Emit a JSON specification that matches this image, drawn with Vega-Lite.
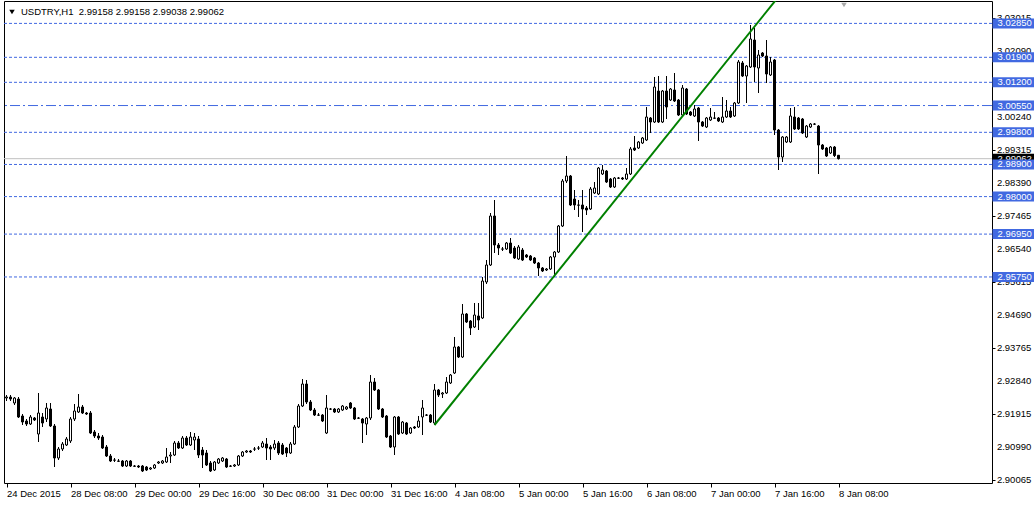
{
  "$schema": "https://vega.github.io/schema/vega-lite/v6.json",
  "width": 988,
  "height": 482,
  "padding": {"left": 3, "top": 1, "right": 0, "bottom": 0},
  "background": "white",
  "config": {
    "view": {"stroke": "black", "strokeWidth": 1},
    "font": "Liberation Sans",
    "axisX": {"labelFontSize": 9.5, "labelColor": "black", "tickColor": "black", "tickSize": 4, "labelPadding": 1, "labelAlign": "left", "domain": false, "grid": false, "labelOverlap": false, "labelFlush": false, "labelBound": false, "labelFont": "Liberation Sans"},
    "axisY": {"labelFontSize": 9.5, "labelColor": "black", "tickColor": "black", "tickSize": 3, "labelPadding": 2, "domain": false, "grid": false, "labelOverlap": false, "labelFont": "Liberation Sans"}
  },
  "datasets": {
    "levels": [
      {"p": 3.0285, "kind": "dash"},
      {"p": 3.019, "kind": "dash"},
      {"p": 3.012, "kind": "dash"},
      {"p": 3.0055, "kind": "dashdot"},
      {"p": 2.998, "kind": "dash"},
      {"p": 2.989, "kind": "dash"},
      {"p": 2.98, "kind": "dash"},
      {"p": 2.9695, "kind": "dash"},
      {"p": 2.9575, "kind": "dash"}
    ],
    "yticks": [
      {"p": 2.90065}, {"p": 2.90990}, {"p": 2.91915}, {"p": 2.92840}, {"p": 2.93765},
      {"p": 2.94690}, {"p": 2.95615}, {"p": 2.96540}, {"p": 2.97465}, {"p": 2.98390},
      {"p": 2.99315}, {"p": 3.00240}, {"p": 3.01165}, {"p": 3.02090}, {"p": 3.03015}
    ],
    "candles": [
      {"i":0,"o":2.92361,"h":2.92445,"l":2.92277,"c":2.92389},
      {"i":1,"o":2.92389,"h":2.92445,"l":2.92277,"c":2.92333},
      {"i":2,"o":2.92221,"h":2.92389,"l":2.92165,"c":2.92361},
      {"i":3,"o":2.92333,"h":2.92389,"l":2.91801,"c":2.91829},
      {"i":4,"o":2.91857,"h":2.91913,"l":2.91605,"c":2.91689},
      {"i":5,"o":2.91717,"h":2.91773,"l":2.91577,"c":2.91633},
      {"i":6,"o":2.91633,"h":2.91885,"l":2.91605,"c":2.91829},
      {"i":7,"o":2.91801,"h":2.91829,"l":2.91717,"c":2.91745},
      {"i":8,"o":2.91353,"h":2.92501,"l":2.91129,"c":2.91941},
      {"i":9,"o":2.91829,"h":2.91941,"l":2.91549,"c":2.91661},
      {"i":10,"o":2.91773,"h":2.92221,"l":2.91689,"c":2.92081},
      {"i":11,"o":2.92053,"h":2.92221,"l":2.91549,"c":2.91577},
      {"i":12,"o":2.91577,"h":2.91633,"l":2.90429,"c":2.90681},
      {"i":13,"o":2.90681,"h":2.90989,"l":2.90625,"c":2.90933},
      {"i":14,"o":2.90933,"h":2.91129,"l":2.90877,"c":2.91073},
      {"i":15,"o":2.91045,"h":2.91269,"l":2.91017,"c":2.91213},
      {"i":16,"o":2.91157,"h":2.91829,"l":2.91101,"c":2.91773},
      {"i":17,"o":2.91773,"h":2.92193,"l":2.91717,"c":2.91997},
      {"i":18,"o":2.91969,"h":2.92473,"l":2.91941,"c":2.92109},
      {"i":19,"o":2.92109,"h":2.92165,"l":2.91913,"c":2.91941},
      {"i":20,"o":2.91941,"h":2.91969,"l":2.91885,"c":2.91913},
      {"i":21,"o":2.91941,"h":2.91997,"l":2.91353,"c":2.91381},
      {"i":22,"o":2.91409,"h":2.91465,"l":2.91241,"c":2.91297},
      {"i":23,"o":2.91297,"h":2.91381,"l":2.91185,"c":2.91241},
      {"i":24,"o":2.91269,"h":2.91325,"l":2.90933,"c":2.90961},
      {"i":25,"o":2.90989,"h":2.91045,"l":2.90709,"c":2.90737},
      {"i":26,"o":2.90737,"h":2.90793,"l":2.90569,"c":2.90597},
      {"i":27,"o":2.90625,"h":2.90681,"l":2.90569,"c":2.9062},
      {"i":28,"o":2.90597,"h":2.90653,"l":2.90569,"c":2.9059},
      {"i":29,"o":2.90597,"h":2.90625,"l":2.90429,"c":2.90457},
      {"i":30,"o":2.90457,"h":2.90625,"l":2.90429,"c":2.90597},
      {"i":31,"o":2.90597,"h":2.90625,"l":2.90429,"c":2.90457},
      {"i":32,"o":2.90457,"h":2.90485,"l":2.90429,"c":2.9045},
      {"i":33,"o":2.90457,"h":2.90485,"l":2.90401,"c":2.90429},
      {"i":34,"o":2.90457,"h":2.90485,"l":2.90289,"c":2.90317},
      {"i":35,"o":2.90429,"h":2.90457,"l":2.90317,"c":2.90345},
      {"i":36,"o":2.90373,"h":2.90429,"l":2.90345,"c":2.90401},
      {"i":37,"o":2.90401,"h":2.90513,"l":2.90373,"c":2.90485},
      {"i":38,"o":2.90541,"h":2.90597,"l":2.90513,"c":2.90569},
      {"i":39,"o":2.90541,"h":2.90625,"l":2.90513,"c":2.90597},
      {"i":40,"o":2.90569,"h":2.90961,"l":2.90541,"c":2.90709},
      {"i":41,"o":2.90737,"h":2.90849,"l":2.90541,"c":2.90765},
      {"i":42,"o":2.90765,"h":2.91157,"l":2.90737,"c":2.91101},
      {"i":43,"o":2.91101,"h":2.91157,"l":2.90933,"c":2.90961},
      {"i":44,"o":2.90961,"h":2.91297,"l":2.90933,"c":2.91241},
      {"i":45,"o":2.91241,"h":2.91297,"l":2.91017,"c":2.91045},
      {"i":46,"o":2.91045,"h":2.91409,"l":2.91017,"c":2.91269},
      {"i":47,"o":2.91185,"h":2.91381,"l":2.90905,"c":2.91269},
      {"i":48,"o":2.91213,"h":2.91297,"l":2.90681,"c":2.90765},
      {"i":49,"o":2.90905,"h":2.90989,"l":2.90401,"c":2.90765},
      {"i":50,"o":2.90821,"h":2.90905,"l":2.90457,"c":2.90485},
      {"i":51,"o":2.90541,"h":2.90597,"l":2.90289,"c":2.90317},
      {"i":52,"o":2.90345,"h":2.90597,"l":2.90317,"c":2.90569},
      {"i":53,"o":2.90541,"h":2.90681,"l":2.90513,"c":2.90653},
      {"i":54,"o":2.90597,"h":2.90709,"l":2.90569,"c":2.90681},
      {"i":55,"o":2.90653,"h":2.90681,"l":2.90401,"c":2.90429},
      {"i":56,"o":2.90457,"h":2.90485,"l":2.90429,"c":2.9045},
      {"i":57,"o":2.90457,"h":2.90513,"l":2.90429,"c":2.90485},
      {"i":58,"o":2.90485,"h":2.90765,"l":2.90457,"c":2.90737},
      {"i":59,"o":2.90737,"h":2.90877,"l":2.90709,"c":2.90849},
      {"i":60,"o":2.90849,"h":2.90905,"l":2.90821,"c":2.90877},
      {"i":61,"o":2.90877,"h":2.90905,"l":2.90821,"c":2.90849},
      {"i":62,"o":2.90933,"h":2.90989,"l":2.90877,"c":2.9093},
      {"i":63,"o":2.90961,"h":2.91017,"l":2.90905,"c":2.90958},
      {"i":64,"o":2.90989,"h":2.91157,"l":2.90961,"c":2.91101},
      {"i":65,"o":2.91073,"h":2.91241,"l":2.90625,"c":2.90961},
      {"i":66,"o":2.90989,"h":2.91045,"l":2.90625,"c":2.90933},
      {"i":67,"o":2.90961,"h":2.91185,"l":2.90905,"c":2.91073},
      {"i":68,"o":2.91101,"h":2.91157,"l":2.90765,"c":2.90821},
      {"i":69,"o":2.91045,"h":2.91101,"l":2.90765,"c":2.90793},
      {"i":70,"o":2.90961,"h":2.90989,"l":2.90709,"c":2.90821},
      {"i":71,"o":2.90821,"h":2.91129,"l":2.90793,"c":2.91073},
      {"i":72,"o":2.91073,"h":2.91605,"l":2.91045,"c":2.91549},
      {"i":73,"o":2.91549,"h":2.92193,"l":2.91521,"c":2.92137},
      {"i":74,"o":2.92137,"h":2.92893,"l":2.92109,"c":2.92753},
      {"i":75,"o":2.92753,"h":2.92865,"l":2.92193,"c":2.92249},
      {"i":76,"o":2.92249,"h":2.92305,"l":2.91997,"c":2.92025},
      {"i":77,"o":2.92025,"h":2.92081,"l":2.91857,"c":2.91885},
      {"i":78,"o":2.91885,"h":2.91941,"l":2.91857,"c":2.9188},
      {"i":79,"o":2.91885,"h":2.91913,"l":2.91689,"c":2.91717},
      {"i":80,"o":2.91381,"h":2.92445,"l":2.91353,"c":2.92081},
      {"i":81,"o":2.92053,"h":2.92081,"l":2.92025,"c":2.9205},
      {"i":82,"o":2.92053,"h":2.92081,"l":2.91941,"c":2.91969},
      {"i":83,"o":2.91969,"h":2.92081,"l":2.91941,"c":2.92053},
      {"i":84,"o":2.92025,"h":2.92165,"l":2.91997,"c":2.92137},
      {"i":85,"o":2.92053,"h":2.92137,"l":2.92025,"c":2.92109},
      {"i":86,"o":2.92221,"h":2.92249,"l":2.92053,"c":2.92081},
      {"i":87,"o":2.92081,"h":2.92109,"l":2.91745,"c":2.91773},
      {"i":88,"o":2.91801,"h":2.91829,"l":2.91773,"c":2.91795},
      {"i":89,"o":2.91773,"h":2.91801,"l":2.91101,"c":2.91661},
      {"i":90,"o":2.91633,"h":2.91829,"l":2.91325,"c":2.91801},
      {"i":91,"o":2.91801,"h":2.93005,"l":2.91745,"c":2.92809},
      {"i":92,"o":2.92809,"h":2.92921,"l":2.92557,"c":2.92585},
      {"i":93,"o":2.92585,"h":2.92613,"l":2.92025,"c":2.92053},
      {"i":94,"o":2.92053,"h":2.92081,"l":2.91801,"c":2.91829},
      {"i":95,"o":2.91857,"h":2.91885,"l":2.91241,"c":2.91269},
      {"i":96,"o":2.91297,"h":2.91325,"l":2.90961,"c":2.90989},
      {"i":97,"o":2.90989,"h":2.91857,"l":2.90765,"c":2.91829},
      {"i":98,"o":2.91829,"h":2.91857,"l":2.91325,"c":2.91353},
      {"i":99,"o":2.91381,"h":2.91717,"l":2.91353,"c":2.91689},
      {"i":100,"o":2.91661,"h":2.91689,"l":2.91325,"c":2.91353},
      {"i":101,"o":2.91381,"h":2.91549,"l":2.91353,"c":2.91521},
      {"i":102,"o":2.91549,"h":2.91577,"l":2.91493,"c":2.91521},
      {"i":103,"o":2.91549,"h":2.91857,"l":2.91521,"c":2.91717},
      {"i":104,"o":2.91829,"h":2.92305,"l":2.91325,"c":2.92081},
      {"i":105,"o":2.91885,"h":2.91913,"l":2.91857,"c":2.9188},
      {"i":106,"o":2.91885,"h":2.91913,"l":2.91661,"c":2.91689},
      {"i":107,"o":2.91661,"h":2.92753,"l":2.91605,"c":2.92585},
      {"i":108,"o":2.92585,"h":2.92613,"l":2.92389,"c":2.92445},
      {"i":109,"o":2.92473,"h":2.92529,"l":2.92361,"c":2.92501},
      {"i":110,"o":2.92501,"h":2.92949,"l":2.92473,"c":2.92809},
      {"i":111,"o":2.92781,"h":2.93033,"l":2.92753,"c":2.93005},
      {"i":112,"o":2.93061,"h":2.94069,"l":2.93033,"c":2.93789},
      {"i":113,"o":2.93789,"h":2.93817,"l":2.93481,"c":2.93509},
      {"i":114,"o":2.93509,"h":2.94993,"l":2.93481,"c":2.94713},
      {"i":115,"o":2.94713,"h":2.94741,"l":2.94461,"c":2.94489},
      {"i":116,"o":2.94517,"h":2.94545,"l":2.94125,"c":2.94321},
      {"i":117,"o":2.94349,"h":2.95021,"l":2.94321,"c":2.94685},
      {"i":118,"o":2.94657,"h":2.95021,"l":2.94265,"c":2.94545},
      {"i":119,"o":2.94601,"h":2.95749,"l":2.94573,"c":2.95637},
      {"i":120,"o":2.95609,"h":2.96225,"l":2.95553,"c":2.96085},
      {"i":121,"o":2.96085,"h":2.97541,"l":2.96057,"c":2.97457},
      {"i":122,"o":2.97457,"h":2.97905,"l":2.96421,"c":2.96645},
      {"i":123,"o":2.96645,"h":2.96701,"l":2.96365,"c":2.96561},
      {"i":124,"o":2.96533,"h":2.96589,"l":2.96477,"c":2.9653},
      {"i":125,"o":2.96533,"h":2.96729,"l":2.96505,"c":2.96701},
      {"i":126,"o":2.96701,"h":2.96841,"l":2.96393,"c":2.96421},
      {"i":127,"o":2.96561,"h":2.96617,"l":2.96253,"c":2.96281},
      {"i":128,"o":2.96253,"h":2.96645,"l":2.96225,"c":2.96589},
      {"i":129,"o":2.96505,"h":2.96561,"l":2.96197,"c":2.96225},
      {"i":130,"o":2.96365,"h":2.96393,"l":2.96281,"c":2.96309},
      {"i":131,"o":2.96337,"h":2.96365,"l":2.96197,"c":2.96225},
      {"i":132,"o":2.96281,"h":2.96309,"l":2.96113,"c":2.96141},
      {"i":133,"o":2.96141,"h":2.96169,"l":2.95777,"c":2.96001},
      {"i":134,"o":2.96001,"h":2.96029,"l":2.95889,"c":2.95917},
      {"i":135,"o":2.95945,"h":2.96001,"l":2.95917,"c":2.95973},
      {"i":136,"o":2.95973,"h":2.96337,"l":2.95945,"c":2.96309},
      {"i":137,"o":2.96309,"h":2.96477,"l":2.95749,"c":2.96449},
      {"i":138,"o":2.96449,"h":2.97205,"l":2.96421,"c":2.97177},
      {"i":139,"o":2.97177,"h":2.98493,"l":2.97149,"c":2.98437},
      {"i":140,"o":2.98437,"h":2.99137,"l":2.98381,"c":2.98577},
      {"i":141,"o":2.98577,"h":2.98605,"l":2.97737,"c":2.97765},
      {"i":142,"o":2.97933,"h":2.98185,"l":2.97625,"c":2.97765},
      {"i":143,"o":2.97765,"h":2.97905,"l":2.97429,"c":2.9776},
      {"i":144,"o":2.97765,"h":2.98185,"l":2.97009,"c":2.97653},
      {"i":145,"o":2.97681,"h":2.97737,"l":2.97485,"c":2.97625},
      {"i":146,"o":2.97653,"h":2.98269,"l":2.97625,"c":2.98213},
      {"i":147,"o":2.98101,"h":2.98409,"l":2.98073,"c":2.98241},
      {"i":148,"o":2.98073,"h":2.98829,"l":2.98045,"c":2.98801},
      {"i":149,"o":2.98633,"h":2.98885,"l":2.98605,"c":2.98745},
      {"i":150,"o":2.98717,"h":2.98745,"l":2.98381,"c":2.98409},
      {"i":151,"o":2.98493,"h":2.98521,"l":2.98241,"c":2.98269},
      {"i":152,"o":2.98269,"h":2.98549,"l":2.98241,"c":2.98521},
      {"i":153,"o":2.98521,"h":2.98549,"l":2.98493,"c":2.98515},
      {"i":154,"o":2.98521,"h":2.98549,"l":2.98465,"c":2.98493},
      {"i":155,"o":2.98493,"h":2.98801,"l":2.98465,"c":2.98633},
      {"i":156,"o":2.98633,"h":2.99389,"l":2.98605,"c":2.99333},
      {"i":157,"o":2.99361,"h":2.99697,"l":2.99277,"c":2.99305},
      {"i":158,"o":2.99361,"h":2.99557,"l":2.99333,"c":2.99529},
      {"i":159,"o":2.99501,"h":2.99669,"l":2.99473,"c":2.99641},
      {"i":160,"o":2.99585,"h":3.00509,"l":2.99557,"c":3.00229},
      {"i":161,"o":3.00201,"h":3.00229,"l":2.99781,"c":3.00089},
      {"i":162,"o":3.00089,"h":3.01349,"l":3.00061,"c":3.01069},
      {"i":163,"o":3.00957,"h":3.01377,"l":3.00061,"c":3.00089},
      {"i":164,"o":3.00089,"h":3.00985,"l":3.00061,"c":3.00957},
      {"i":165,"o":3.00957,"h":3.01377,"l":3.00173,"c":3.00509},
      {"i":166,"o":3.00705,"h":3.01041,"l":3.00677,"c":3.01013},
      {"i":167,"o":3.00985,"h":3.01461,"l":3.00649,"c":3.00677},
      {"i":168,"o":3.00705,"h":3.00733,"l":3.00257,"c":3.00285},
      {"i":169,"o":3.00285,"h":3.01125,"l":3.00257,"c":3.01041},
      {"i":170,"o":3.01013,"h":3.01041,"l":3.00285,"c":3.00313},
      {"i":171,"o":3.00369,"h":3.00397,"l":3.00257,"c":3.00285},
      {"i":172,"o":3.00257,"h":3.00565,"l":3.00229,"c":3.00453},
      {"i":173,"o":3.00481,"h":3.00509,"l":2.99557,"c":3.00089},
      {"i":174,"o":3.00089,"h":3.00117,"l":2.99949,"c":2.99977},
      {"i":175,"o":2.99949,"h":3.00229,"l":2.99921,"c":3.00201},
      {"i":176,"o":3.00145,"h":3.00481,"l":3.00117,"c":3.00229},
      {"i":177,"o":3.00201,"h":3.00369,"l":3.00173,"c":3.00195},
      {"i":178,"o":3.00201,"h":3.00229,"l":3.00089,"c":3.00117},
      {"i":179,"o":3.00089,"h":3.00789,"l":3.00061,"c":3.00229},
      {"i":180,"o":3.00229,"h":3.00705,"l":3.00201,"c":3.00397},
      {"i":181,"o":3.00397,"h":3.00509,"l":3.00201,"c":3.00229},
      {"i":182,"o":3.00257,"h":3.00649,"l":3.00229,"c":3.00621},
      {"i":183,"o":3.00621,"h":3.01825,"l":3.00593,"c":3.01769},
      {"i":184,"o":3.01741,"h":3.01797,"l":3.01349,"c":3.01377},
      {"i":185,"o":3.01377,"h":3.01685,"l":3.00621,"c":3.01657},
      {"i":186,"o":3.01629,"h":3.02805,"l":3.01601,"c":3.02413},
      {"i":187,"o":3.02385,"h":3.02721,"l":3.01209,"c":3.01629},
      {"i":188,"o":3.01601,"h":3.02105,"l":3.00901,"c":3.01965},
      {"i":189,"o":3.02021,"h":3.02049,"l":3.01909,"c":3.01937},
      {"i":190,"o":3.01937,"h":3.02385,"l":3.01181,"c":3.01433},
      {"i":191,"o":3.01405,"h":3.01909,"l":3.01377,"c":3.01769},
      {"i":192,"o":3.01825,"h":3.01853,"l":2.99725,"c":2.99865},
      {"i":193,"o":2.99865,"h":2.99893,"l":2.98745,"c":2.99109},
      {"i":194,"o":2.99109,"h":2.99697,"l":2.98969,"c":2.99669},
      {"i":195,"o":2.99529,"h":2.99697,"l":2.99501,"c":2.99669},
      {"i":196,"o":2.99529,"h":3.00481,"l":2.99501,"c":3.00257},
      {"i":197,"o":3.00229,"h":3.00509,"l":2.99865,"c":2.99893},
      {"i":198,"o":3.00201,"h":3.00229,"l":2.99865,"c":2.99893},
      {"i":199,"o":3.00173,"h":3.00201,"l":2.99753,"c":2.99781},
      {"i":200,"o":2.99669,"h":3.00005,"l":2.99641,"c":2.99977},
      {"i":201,"o":2.99949,"h":3.00061,"l":2.99921,"c":3.00033},
      {"i":202,"o":3.00033,"h":3.00061,"l":3.00005,"c":3.00028},
      {"i":203,"o":2.99977,"h":3.00005,"l":2.98633,"c":2.99445},
      {"i":204,"o":2.99445,"h":2.99473,"l":2.99305,"c":2.99333},
      {"i":205,"o":2.99361,"h":2.99389,"l":2.99109,"c":2.99137},
      {"i":206,"o":2.99221,"h":2.99417,"l":2.99193,"c":2.99389},
      {"i":207,"o":2.99389,"h":2.99417,"l":2.99109,"c":2.9915},
      {"i":208,"o":2.99158,"h":2.99158,"l":2.99038,"c":2.99062}
    ]
  },
  "layer": [
    {
      "data": {"name": "levels"},
      "transform": [{"filter": "datum.kind == 'dash'"}],
      "mark": {"type": "rule", "color": "#4169E1", "strokeWidth": 1, "strokeDash": [3, 2]},
      "encoding": {
        "y": {"field": "p", "type": "quantitative", "title": null, "scale": {"domain": [2.89981, 3.03477], "nice": false, "zero": false, "padding": 0}}
      }
    },
    {
      "data": {"name": "levels"},
      "transform": [{"filter": "datum.kind == 'dashdot'"}],
      "mark": {"type": "rule", "color": "#4169E1", "strokeWidth": 1, "strokeDash": [10, 3, 2, 3]},
      "encoding": {
        "y": {"field": "p", "type": "quantitative", "title": null, "scale": {"domain": [2.89981, 3.03477], "nice": false, "zero": false, "padding": 0}}
      }
    },
    {
      "data": {"values": [{"p": 2.99062}]},
      "mark": {"type": "rule", "color": "#C0C0C0", "strokeWidth": 1},
      "encoding": {
        "y": {"field": "p", "type": "quantitative", "title": null, "scale": {"domain": [2.89981, 3.03477], "nice": false, "zero": false, "padding": 0}}
      }
    },
    {
      "data": {"name": "candles"},
      "mark": {"type": "rule", "color": "black", "strokeWidth": 1},
      "encoding": {
        "x": {"field": "i", "type": "quantitative", "title": null, "scale": {"domain": [-0.625, 246.375], "nice": false, "zero": false, "padding": 0},
          "axis": {"values": [0, 16, 32, 48, 64, 80, 96, 112, 128, 144, 160, 176, 192, 208], "labelOverlap": false,
            "labelExpr": "['24 Dec 2015','28 Dec 08:00','29 Dec 00:00','29 Dec 16:00','30 Dec 08:00','31 Dec 00:00','31 Dec 16:00','4 Jan 08:00','5 Jan 00:00','5 Jan 16:00','6 Jan 08:00','7 Jan 00:00','7 Jan 16:00','8 Jan 08:00'][round(datum.value/16)]"}},
        "y": {"field": "l", "type": "quantitative", "title": null, "scale": {"domain": [2.89981, 3.03477], "nice": false, "zero": false, "padding": 0},
          "axis": {"orient": "right", "labels": false, "values": [2.90065, 2.9099, 2.91915, 2.9284, 2.93765, 2.9469, 2.95615, 2.9654, 2.97465, 2.9839, 2.99315, 3.0024, 3.01165, 3.0209, 3.03015]}},
        "y2": {"field": "h"}
      }
    },
    {
      "data": {"name": "candles"},
      "mark": {"type": "bar", "size": 2, "stroke": "black", "strokeWidth": 1},
      "encoding": {
        "x": {"field": "i", "type": "quantitative", "title": null, "scale": {"domain": [-0.625, 246.375], "nice": false, "zero": false, "padding": 0}},
        "y": {"field": "o", "type": "quantitative", "title": null, "scale": {"domain": [2.89981, 3.03477], "nice": false, "zero": false, "padding": 0}},
        "y2": {"field": "c"},
        "fill": {"condition": {"test": "datum.c >= datum.o", "value": "white"}, "value": "black"}
      }
    },
    {
      "data": {"values": [{"i": 107, "p": 2.91605}, {"i": 195, "p": 3.03876}]},
      "mark": {"type": "line", "color": "#008000", "strokeWidth": 2, "clip": true},
      "encoding": {
        "x": {"field": "i", "type": "quantitative", "title": null, "scale": {"domain": [-0.625, 246.375], "nice": false, "zero": false, "padding": 0}},
        "y": {"field": "p", "type": "quantitative", "title": null, "scale": {"domain": [2.89981, 3.03477], "nice": false, "zero": false, "padding": 0}}
      }
    },
    {
      "data": {"name": "yticks"},
      "mark": {"type": "text", "align": "left", "baseline": "middle", "color": "black", "fontSize": 9.5, "font": "Liberation Sans"},
      "encoding": {
        "x": {"datum": 247.6, "type": "quantitative", "title": null, "scale": {"domain": [-0.625, 246.375], "nice": false, "zero": false, "padding": 0}},
        "y": {"field": "p", "type": "quantitative", "title": null, "scale": {"domain": [2.89981, 3.03477], "nice": false, "zero": false, "padding": 0}},
        "text": {"field": "p", "type": "quantitative", "format": ".5f"}
      }
    },
    {
      "data": {"values": [{"p": 2.99062}]},
      "mark": {"type": "bar", "orient": "horizontal", "size": 10, "color": "black"},
      "encoding": {
        "x": {"datum": 246.5, "type": "quantitative", "title": null, "scale": {"domain": [-0.625, 246.375], "nice": false, "zero": false, "padding": 0}},
        "x2": {"datum": 256.875},
        "y": {"field": "p", "type": "quantitative", "title": null, "scale": {"domain": [2.89981, 3.03477], "nice": false, "zero": false, "padding": 0}}
      }
    },
    {
      "data": {"values": [{"p": 2.99062}]},
      "mark": {"type": "text", "align": "left", "baseline": "middle", "color": "white", "fontSize": 9.5, "font": "Liberation Sans"},
      "encoding": {
        "x": {"datum": 247.75, "type": "quantitative", "title": null, "scale": {"domain": [-0.625, 246.375], "nice": false, "zero": false, "padding": 0}},
        "y": {"field": "p", "type": "quantitative", "title": null, "scale": {"domain": [2.89981, 3.03477], "nice": false, "zero": false, "padding": 0}},
        "text": {"field": "p", "type": "quantitative", "format": ".5f"}
      }
    },
    {
      "data": {"name": "levels"},
      "mark": {"type": "bar", "orient": "horizontal", "size": 10, "color": "#4169E1"},
      "encoding": {
        "x": {"datum": 246.5, "type": "quantitative", "title": null, "scale": {"domain": [-0.625, 246.375], "nice": false, "zero": false, "padding": 0}},
        "x2": {"datum": 256.875},
        "y": {"field": "p", "type": "quantitative", "title": null, "scale": {"domain": [2.89981, 3.03477], "nice": false, "zero": false, "padding": 0}}
      }
    },
    {
      "data": {"name": "levels"},
      "mark": {"type": "text", "align": "left", "baseline": "middle", "color": "white", "fontSize": 9.5, "font": "Liberation Sans"},
      "encoding": {
        "x": {"datum": 247.75, "type": "quantitative", "title": null, "scale": {"domain": [-0.625, 246.375], "nice": false, "zero": false, "padding": 0}},
        "y": {"field": "p", "type": "quantitative", "title": null, "scale": {"domain": [2.89981, 3.03477], "nice": false, "zero": false, "padding": 0}},
        "text": {"field": "p", "type": "quantitative", "format": ".5f"}
      }
    },
    {
      "data": {"values": [{"t": "USDTRY,H1\u00a0 2.99158 2.99158 2.99038 2.99062"}]},
      "mark": {"type": "text", "align": "left", "baseline": "middle", "color": "black", "fontSize": 9.5, "font": "Liberation Sans"},
      "encoding": {
        "x": {"datum": 3.625, "type": "quantitative", "title": null, "scale": {"domain": [-0.625, 246.375], "nice": false, "zero": false, "padding": 0}},
        "y": {"datum": 3.03169, "type": "quantitative", "title": null, "scale": {"domain": [2.89981, 3.03477], "nice": false, "zero": false, "padding": 0}},
        "text": {"field": "t", "type": "nominal"}
      }
    },
    {
      "data": {"values": [{"i": 1.375, "p": 3.03169, "c": "black"}, {"i": 209.375, "p": 3.03365, "c": "#A8A8A8"}]},
      "mark": {"type": "point", "shape": "triangle-down", "filled": true, "size": 30, "opacity": 1},
      "encoding": {
        "x": {"field": "i", "type": "quantitative", "title": null, "scale": {"domain": [-0.625, 246.375], "nice": false, "zero": false, "padding": 0}},
        "y": {"field": "p", "type": "quantitative", "title": null, "scale": {"domain": [2.89981, 3.03477], "nice": false, "zero": false, "padding": 0}},
        "color": {"field": "c", "type": "nominal", "scale": null, "legend": null}
      }
    }
  ]
}
